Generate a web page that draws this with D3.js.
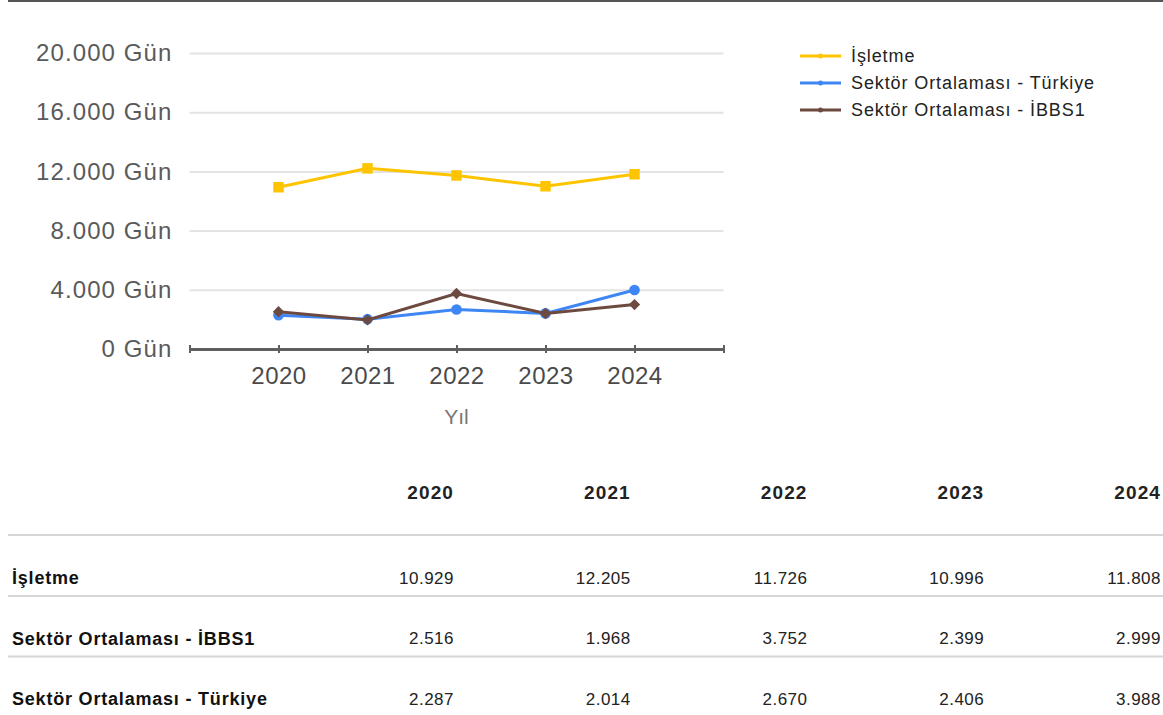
<!DOCTYPE html>
<html>
<head>
<meta charset="utf-8">
<script src="https://cdn.jsdelivr.net/npm/d3@7/dist/d3.min.js"></script>
<style>
  body { margin: 0; background: #fff; }
  svg { display: block; }
</style>
</head>
<body>
<div id="container"></div>
<script>
const years = [2020, 2021, 2022, 2023, 2024];
const isletme = [10929, 12205, 11726, 10996, 11808];
const turkiye = [2287, 2014, 2670, 2406, 3988];
const ibbs1 = [2516, 1968, 3752, 2399, 2999];
const yTicks = [0, 4000, 8000, 12000, 16000, 20000];

const series = [
  { name: 'İşletme', values: isletme, color: '#ffc400', shape: 'square' },
  { name: 'Sektör Ortalaması - Türkiye', values: turkiye, color: '#3f86f5', shape: 'circle' },
  { name: 'Sektör Ortalaması - İBBS1', values: ibbs1, color: '#6d4a3f', shape: 'diamond' }
];
// table rows are in a different order than the legend
const tableRows = [series[0], series[2], series[1]];

const w = 1163;
const h = 715;
const plot = { left: 189.5, right: 723.5, top: 53, bottom: 349 };
const font = 'Liberation Sans, Arial, sans-serif';

const tr = d3.formatLocale({ decimal: ',', thousands: '.', grouping: [3], currency: ['', ''] });
const fmt = tr.format(',.0f');

const svg = d3.select('#container')
  .append('svg')
  .attr('width', w)
  .attr('height', h);

// top border
svg.append('line')
  .attr('x1', 8).attr('x2', w)
  .attr('y1', 1).attr('y2', 1)
  .attr('stroke', '#555').attr('stroke-width', 2);

const xScale = d3.scaleLinear()
  .domain([years[0] - 1, years[years.length - 1] + 1])
  .range([plot.left, plot.right]);

const yScale = d3.scaleLinear()
  .domain([0, 20000])
  .range([plot.bottom, plot.top]);

// grid + y labels
const yAxis = svg.append('g')
  .attr('transform', `translate(${plot.left},0)`)
  .call(d3.axisLeft(yScale)
    .tickValues(yTicks)
    .tickSize(-(plot.right - plot.left))
    .tickPadding(17)
    .tickFormat(d => fmt(d) + ' Gün'));
yAxis.select('.domain').remove();
yAxis.selectAll('.tick line')
  .attr('stroke', '#e3e3e3')
  .attr('stroke-width', 2);
yAxis.selectAll('.tick text')
  .attr('fill', '#5a5a5a')
  .style('font-family', font)
  .style('font-size', '24px')
  .style('letter-spacing', '1.1px');

// x axis
const xTickVals = d3.range(years[0] - 1, years[years.length - 1] + 2);
const xAxis = svg.append('g')
  .attr('transform', `translate(0,${plot.bottom})`)
  .call(d3.axisBottom(xScale)
    .tickValues(xTickVals)
    .tickSize(4)
    .tickPadding(14)
    .tickSizeOuter(0)
    .tickFormat(d => years.includes(d) ? String(d) : ''));
xAxis.select('.domain')
  .attr('stroke', '#5f5f5f')
  .attr('stroke-width', 3);
xAxis.selectAll('.tick line')
  .attr('y1', -4)
  .attr('y2', 4)
  .attr('stroke', '#5f5f5f')
  .attr('stroke-width', 2);
xAxis.selectAll('.tick text')
  .attr('fill', '#4a4a4a')
  .style('font-family', font)
  .style('font-size', '24px')
  .style('letter-spacing', '0.5px');

svg.append('text')
  .attr('x', xScale(2022))
  .attr('y', 424)
  .attr('text-anchor', 'middle')
  .attr('fill', '#777')
  .style('font-family', font)
  .style('font-size', '21px')
  .text('Yıl');

const line = d3.line()
  .x((d, i) => xScale(years[i]))
  .y(d => yScale(d));

const symbolOf = {
  square: { path: d3.symbol().type(d3.symbolSquare).size(110), rot: 0 },
  circle: { path: d3.symbol().type(d3.symbolCircle).size(90), rot: 0 },
  diamond: { path: d3.symbol().type(d3.symbolSquare).size(64), rot: 45 }
};

// draw order: yellow, blue, brown on top
series.forEach(s => {
  const g = svg.append('g');
  const sym = symbolOf[s.shape];
  g.append('path')
    .datum(s.values)
    .attr('fill', 'none')
    .attr('stroke', s.color)
    .attr('stroke-width', 3)
    .attr('d', line);
  g.selectAll('path.pt')
    .data(s.values)
    .enter().append('path')
    .attr('class', 'pt')
    .attr('d', sym.path)
    .attr('fill', s.color)
    .attr('transform', (d, i) => `translate(${xScale(years[i])},${yScale(d)}) rotate(${sym.rot})`);
});

// legend
const legend = svg.append('g').attr('transform', 'translate(800,56)');
series.forEach((s, i) => {
  const row = legend.append('g').attr('transform', `translate(0,${i * 27})`);
  row.append('line')
    .attr('x1', 0).attr('x2', 41)
    .attr('stroke', s.color).attr('stroke-width', 3);
  row.append('circle')
    .attr('cx', 20.5).attr('r', 2.5)
    .attr('fill', s.color);
  row.append('text')
    .attr('x', 51)
    .attr('dy', '0.35em')
    .attr('fill', '#222')
    .style('font-family', font)
    .style('font-size', '18px')
    .style('letter-spacing', '0.9px')
    .text(s.name);
});

// table
const colX = d3.scalePoint()
  .domain(years)
  .range([454, 1161]);

const table = svg.append('g');
table.selectAll('text.head')
  .data(years)
  .enter().append('text')
  .attr('class', 'head')
  .attr('x', d => colX(d))
  .attr('y', 492)
  .attr('dy', '0.35em')
  .attr('text-anchor', 'end')
  .attr('fill', '#222')
  .style('font-family', font)
  .style('font-weight', 'bold')
  .style('font-size', '19px')
  .style('letter-spacing', '1.1px')
  .text(d => d);

const rowY = d3.scalePoint()
  .domain(tableRows.map(d => d.name))
  .range([578, 699]);

table.append('line')
  .attr('x1', 8).attr('x2', w)
  .attr('y1', 535).attr('y2', 535)
  .attr('stroke', '#d6d6d6').attr('stroke-width', 2);

tableRows.forEach(s => {
  const y = rowY(s.name);
  table.append('text')
    .attr('x', 12)
    .attr('y', y)
    .attr('dy', '0.35em')
    .attr('fill', '#111')
    .style('font-family', font)
    .style('font-weight', 'bold')
    .style('font-size', '18px')
    .style('letter-spacing', '0.8px')
    .text(s.name);
  table.selectAll(null)
    .data(s.values)
    .enter().append('text')
    .attr('x', (d, i) => colX(years[i]))
    .attr('y', y)
    .attr('dy', '0.35em')
    .attr('text-anchor', 'end')
    .attr('fill', '#222')
    .style('font-family', font)
    .style('font-size', '17px')
    .style('letter-spacing', '0.5px')
    .text(d => fmt(d));
  table.append('line')
    .attr('x1', 8).attr('x2', w)
    .attr('y1', y + 18).attr('y2', y + 18)
    .attr('stroke', '#d6d6d6').attr('stroke-width', 2);
});
</script>
</body>
</html>
